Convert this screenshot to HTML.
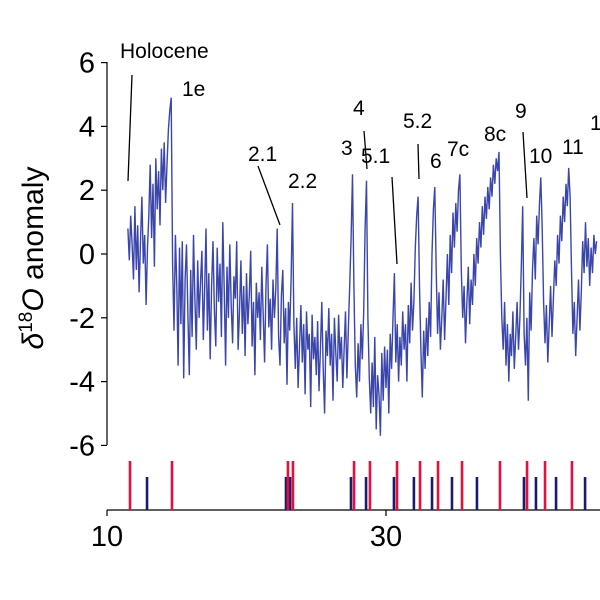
<!DOCTYPE html>
<html><head><meta charset="utf-8"><style>
body{margin:0;background:#fff}
svg{display:block;font-family:"Liberation Sans","DejaVu Sans",sans-serif}
</style></head><body>
<svg id="c" width="600" height="600" viewBox="0 0 600 600">
<g id="axes"></g>
<g id="series"></g>
<g id="events"></g>
<g id="ann" font-size="21" fill="#000"></g>
<text transform="translate(43,258) rotate(-90)" text-anchor="middle" font-size="30" fill="#000"><tspan font-style="italic">δ</tspan><tspan dy="-11" font-size="19">18</tspan><tspan dy="11" font-style="italic">O</tspan> anomaly</text>
</svg>
<script>
const xStart = 11.5, xStep = 0.1;
const values = [0.8,-0.2,1.2,0.3,-0.8,
1.5,-0.5,0.9,-1.2,0.4,1.8,-0.3,0.6,-1.6,0.2,
1.2,2.8,0.5,2.2,-0.4,3.0,1.4,2.6,0.9,3.3,
2.0,3.5,1.6,2.8,3.9,4.5,4.9,-0.3,-2.4,0.6,
-1.0,-3.5,0.2,-2.2,0.4,-3.9,-0.8,0.3,-1.9,-3.8,
-0.5,-2.6,0.6,-1.4,-3.0,-0.2,-2.0,-0.9,0.1,-2.7,
-1.2,0.8,-2.4,-0.6,-3.3,-1.0,0.4,-1.8,-2.9,0.2,
-1.5,-0.3,-2.6,1.0,-1.1,-3.5,-0.4,-2.0,0.3,-1.6,
-2.8,-0.7,-1.4,0.4,-3.0,-1.8,-0.2,-2.5,-1.0,-3.2,
-0.6,-2.2,-1.3,0.1,-2.9,-1.5,-3.8,-0.9,-2.0,-1.2,
-2.7,-0.4,-1.9,-3.4,-1.0,0.3,-2.3,-1.4,-3.0,-0.8,
-2.0,-1.1,0.8,-2.6,-3.5,-1.3,-0.5,-2.8,-1.7,-4.1,
-1.5,-2.4,-0.8,1.6,-2.2,-3.6,-2.0,-4.2,-2.9,-1.6,
-3.4,-2.2,-4.4,-1.8,-3.0,-2.5,-4.8,-1.9,-3.3,-2.6,
-3.8,-2.1,-4.3,-3.0,-1.5,-3.6,-5.0,-2.4,-3.2,-1.7,
-3.5,-2.5,-4.6,-2.0,-3.1,-4.0,-1.9,-3.3,-2.6,-4.2,
-3.0,-1.8,-3.9,-2.4,-1.0,0.5,2.5,-1.0,-3.5,-4.5,
-2.8,-4.0,-2.2,-3.3,-1.8,0.8,2.3,-2.0,-3.9,-5.0,
-3.4,-4.8,-2.6,-5.5,-3.8,-4.4,-5.7,-3.1,-4.6,-2.9,
-4.2,-3.0,-5.0,-2.5,-3.6,-2.0,-0.6,-3.4,-2.2,-4.0,
-2.6,-3.5,-1.8,-3.0,-2.2,-4.0,-1.6,-2.8,-0.9,-2.4,
-1.5,0.2,1.2,1.8,-1.0,-3.0,-4.5,-2.4,-3.6,-2.0,
-3.2,-1.5,-2.6,0.0,1.4,2.1,-0.5,-2.5,-1.2,-3.0,
-2.0,-0.8,-2.7,-1.4,0.0,-1.6,0.6,-0.6,1.3,0.2,
1.6,0.7,2.0,2.5,-0.5,-2.0,-1.0,-2.8,-1.5,-0.4,
-2.2,-0.8,-1.6,0.0,-1.0,0.5,-0.3,1.0,0.2,1.5,
0.6,1.8,1.1,2.1,1.4,2.4,1.8,2.8,2.2,3.0,
2.6,3.2,0.0,-2.0,-3.0,-1.5,-3.5,-2.2,-4.0,-2.5,
-3.2,-1.8,-3.6,-2.6,-1.5,-3.0,-2.0,-0.4,1.5,-2.5,
-3.5,-2.0,-4.6,-1.2,-2.4,-0.5,0.5,-0.8,1.2,0.3,
1.6,2.4,0.8,-1.5,-2.8,-1.6,-3.4,-2.2,-1.0,-2.6,
-1.4,-0.2,-1.0,0.6,-0.3,1.2,0.4,1.8,1.0,2.2,
1.5,2.7,1.8,-0.5,-2.5,-1.5,-3.2,-2.0,-0.8,-2.4,
-1.2,0.4,-0.6,1.0,-0.4,0.5,-1.0,0.2,-0.6,0.6,
0.0,0.4];
const redEvents = [11.65,14.66,22.97,23.33,27.71,28.85,30.79,32.44,33.73,35.45,38.17,40.11,41.4,43.33];
const blueEvents = [12.87,22.83,23.12,27.49,28.57,30.57,32.0,33.3,34.73,36.52,39.89,40.75,42.19,44.27];
const yTicks = [6,4,2,0,-2,-4,-6];
const xTicks = [10,30];
const labels = [["Holocene",120,58],["1e",182,96],["2.1",248,161],["2.2",288,188],["3",341,155],["4",353,115],["5.1",361,163],["5.2",403,128],["6",430,168],["7c",447,156],["8c",484,141],["9",515,118],["10",529,163],["11",562,154],["1",590,130]];
const leaders = [[132,75,128,181],[258,166,280,225],[364,131,367,169],[392,177,397,264],[418,144,419,179],[523,132,527,198]];

const NS="http://www.w3.org/2000/svg";
const X = v => 107 + (v-10)*13.95;
const Y = v => 254 - v*31.9;
function mk(tag, parent, attrs){const e=document.createElementNS(NS,tag);for(const k in attrs)e.setAttribute(k,attrs[k]);parent.appendChild(e);return e;}
const axes=document.getElementById('axes');
let el=mk('line',axes,{x1:107,y1:62,x2:107,y2:445,stroke:'#000','stroke-width':1.2});


yTicks.forEach(t=>{
  const tk=mk('line',axes,{x1:101,y1:Y(t),x2:107,y2:Y(t),stroke:'#000','stroke-width':1.2});
  
  
  const tx=mk('text',axes,{x:95,y:Y(t)+10,'text-anchor':'end','font-size':29});
  
  
  tx.textContent=t;
});
el=mk('line',axes,{x1:107,y1:510,x2:600,y2:510,stroke:'#000','stroke-width':1.2});


xTicks.forEach(t=>{
  const tk=mk('line',axes,{x1:X(t),y1:510,x2:X(t),y2:516,stroke:'#000','stroke-width':1.2});
  
  
  const tx=mk('text',axes,{x:X(t),y:546,'text-anchor':'middle','font-size':29});
  
  
  tx.textContent=t;
});
const pts=values.map((v,i)=>X(xStart+i*xStep).toFixed(1)+','+Y(v).toFixed(1)).join(' ');
el=mk('polyline',document.getElementById('series'),{points:pts,fill:'none',stroke:'#3a46ab','stroke-width':1.4,'stroke-linejoin':'miter'});


const ev=document.getElementById('events');
blueEvents.forEach(v=>{
  const l=mk('line',ev,{x1:X(v),y1:477,x2:X(v),y2:510,stroke:'#1b1b6e','stroke-width':2.6});
  
  
});
redEvents.forEach(v=>{
  const l=mk('line',ev,{x1:X(v),y1:461,x2:X(v),y2:510,stroke:'#e3103c','stroke-width':2.6});
  
  
});
const ann=document.getElementById('ann');
labels.forEach(a=>{
  const t=mk('text',ann,{x:a[1],y:a[2]});
  
  
  t.textContent=a[0];
});
leaders.forEach(a=>{
  const l=mk('line',ann,{x1:a[0],y1:a[1],x2:a[2],y2:a[3],stroke:'#000','stroke-width':1.3});
  
  
});
</script>
</body></html>
